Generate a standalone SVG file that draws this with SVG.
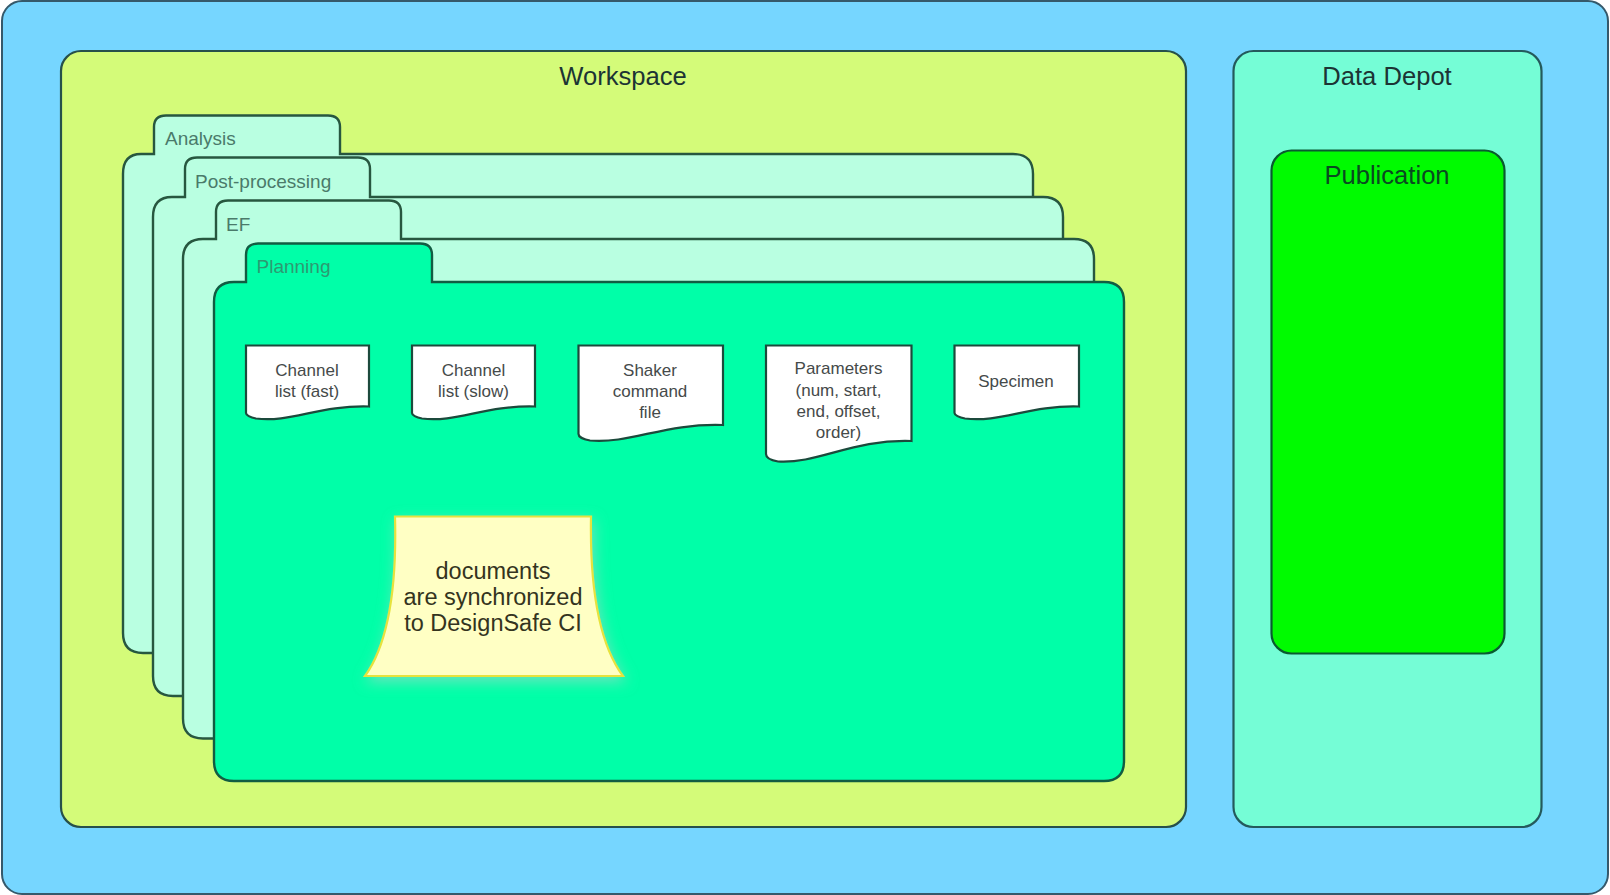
<svg xmlns="http://www.w3.org/2000/svg" width="1610" height="895" viewBox="0 0 1610 895">
<defs>
<style>
text{font-family:"Liberation Sans",Arial,sans-serif;text-anchor:middle}
.box{stroke-width:2.2}
.title{font-size:25.600px;fill:#1c3434}
.tab{font-size:19px;text-anchor:start}
.folder{fill:#b9ffe1;stroke:#27573f;stroke-width:2.400}
.doc{fill:#fff;stroke:#1c4a3c;stroke-width:2.200}
.doct{font-size:17px;fill:#454a4a}
.notet{font-size:23.500px;fill:#34341e}
</style>
<filter id="noteShadow" x="-15%" y="-15%" width="130%" height="135%">
<feGaussianBlur in="SourceAlpha" stdDeviation="7"/>
<feOffset dx="2" dy="5"/>
<feColorMatrix type="matrix" values="0 0 0 0 0.45 0 0 0 0 0.65 0 0 0 0 0.6 0 0 0 0.6 0"/>
<feMerge><feMergeNode/><feMergeNode in="SourceGraphic"/></feMerge>
</filter>
</defs>
<g id="outer"><rect x="2" y="1" width="1606" height="893" rx="20" fill="#76d6ff" stroke="#35596b" stroke-width="2"/></g>
<g id="workspace">
<rect class="box" x="61" y="51" width="1125" height="776" rx="20" fill="#d4fb79" stroke="#27504a"/>
<text class="title" x="623" y="85">Workspace</text>
</g>
<g id="data-depot">
<rect class="box" x="1233.500" y="51" width="308" height="776" rx="20" fill="#75fdd6" stroke="#245a5c"/>
<text class="title" x="1387" y="85">Data Depot</text>
</g>
<g id="publication">
<rect class="box" x="1271.500" y="150.500" width="233" height="503" rx="20" fill="#00fb00" stroke="#0a5a30"/>
<text class="title" x="1387" y="184" style="fill:#0a4a20">Publication</text>
</g>
<g id="folder-analysis">
<path class="folder" d="M141 154H154V127Q154 115.500 166 115.500H328Q340 115.500 340 127V154H1013Q1033 154 1033 174V653H143Q123 653 123 633V174Q123 154 141 154Z"/>
<text class="tab" x="165" y="145" fill="#4a7a6a">Analysis</text>
</g>
<g id="folder-post-processing">
<path class="folder" d="M172 197H185V169Q185 157.500 197 157.500H358Q370 157.500 370 169V197H1043Q1063 197 1063 217V696H173Q153 696 153 676V217Q153 197 172 197Z"/>
<text class="tab" x="195" y="188" fill="#4a7a6a">Post-processing</text>
</g>
<g id="folder-ef">
<path class="folder" d="M203 239H216V212Q216 200.500 228 200.500H389Q401 200.500 401 212V239H1074Q1094 239 1094 259V738.500H203Q183 738.500 183 718.500V259Q183 239 203 239Z"/>
<text class="tab" x="226" y="230.500" fill="#4a7a6a">EF</text>
</g>
<g id="folder-planning">
<path d="M234 282H246V255Q246 243.500 258 243.500H420Q432 243.500 432 255V282H1104Q1124 282 1124 302V761Q1124 781 1104 781H234Q214 781 214 761V302Q214 282 234 282Z" fill="#00ffa8" stroke="#125c42" stroke-width="2.400"/>
<text class="tab" x="256.500" y="273" fill="#2c9a72">Planning</text>
</g>
<g id="doc-channel-fast">
<path class="doc" d="M246 345.500H369V406.500C320 405 290 423 256 418.500C250 417.500 246 415 246 413Z"/>
<text class="doct" x="307" y="376">Channel</text><text class="doct" x="307" y="397">list (fast)</text>
</g>
<g id="doc-channel-slow">
<path class="doc" d="M412 345.500H535V406.500C486 405 456 423 422 418.500C416 417.500 412 415 412 413Z"/>
<text class="doct" x="473.500" y="376">Channel</text><text class="doct" x="473.500" y="397">list (slow)</text>
</g>
<g id="doc-shaker">
<path class="doc" d="M578.500 345.500H723V425C665 423 630 444 590 440.500C584 439.500 578.500 437 578.500 434Z"/>
<text class="doct" x="650" y="376">Shaker</text><text class="doct" x="650" y="397">command</text><text class="doct" x="650" y="418">file</text>
</g>
<g id="doc-parameters">
<path class="doc" d="M766 345.500H911.500V441C853 439 818 464 778 461.500C772 460.500 766 458 766 454Z"/>
<text class="doct" x="838.500" y="374">Parameters</text><text class="doct" x="838.500" y="396">(num, start,</text><text class="doct" x="838.500" y="417">end, offset,</text><text class="doct" x="838.500" y="438">order)</text>
</g>
<g id="doc-specimen">
<path class="doc" d="M954.500 345.500H1079V406.500C1030 405 1000 423 965 418.500C959 417.500 954.500 415 954.500 413Z"/>
<text class="doct" x="1016" y="386.500">Specimen</text>
</g>
<g id="note-sync">
<path d="M395 516.500H591Q589 630 623 676H365Q398 630 395 516.500Z" fill="#ffffc4" stroke="#e6e23c" stroke-width="2.200" filter="url(#noteShadow)"/>
<text class="notet" x="493" y="579">documents</text><text class="notet" x="493" y="605">are synchronized</text><text class="notet" x="493" y="631">to DesignSafe CI</text>
</g>
<g id="connectors"></g>
</svg>
